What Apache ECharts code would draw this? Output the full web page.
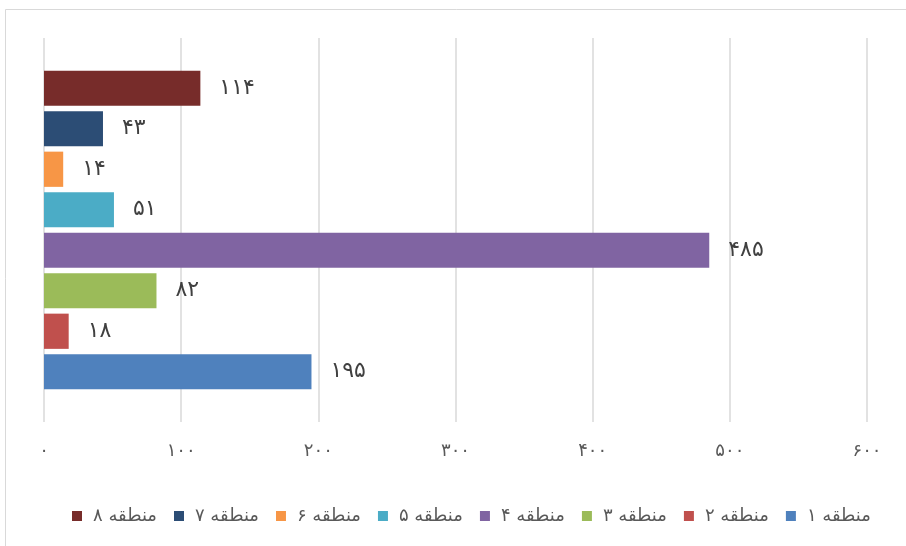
<!DOCTYPE html>
<html>
<head>
<meta charset="utf-8">
<script src="https://cdn.jsdelivr.net/npm/echarts@6/dist/echarts.min.js"></script>
<style>
  html, body { margin: 0; padding: 0; background: #fff; }
  #chart { width: 906px; height: 546px; }
</style>
</head>
<body>
<div id="chart"></div>
<script>
// Region names and their values (one bar per region)
const regionNames = ['منطقه ۱', 'منطقه ۲', 'منطقه ۳', 'منطقه ۴', 'منطقه ۵', 'منطقه ۶', 'منطقه ۷', 'منطقه ۸'];
const regionValues = [195, 18, 82, 485, 51, 14, 43, 114];
const regionColors = ['#4F81BD', '#C0504D', '#9BBB59', '#8064A2', '#4BACC6', '#F79646', '#2C4D75', '#772C2A'];
const axisMin = 0;
const axisMax = 600;
const axisStep = 100;

// Convert western digits to Persian digits
function toPersian(n) {
  const d = '۰۱۲۳۴۵۶۷۸۹';
  return String(n).replace(/[0-9]/g, c => d[+c]);
}

const font = "'DejaVu Sans', sans-serif";

// Region 1 sits at the bottom of the stack, region 8 at the top
const series = regionNames.map((name, i) => ({
  name: name,
  type: 'bar',
  data: [regionValues[i]],
  barGap: '15%',
  barCategoryGap: '17%',
  itemStyle: { color: regionColors[i] },
  label: {
    show: true,
    position: 'right',
    distance: 19,
    color: '#404040',
    fontSize: 22,
    fontFamily: font,
    formatter: p => toPersian(p.value)
  }
})).reverse();

const chart = echarts.init(document.getElementById('chart'), null, { renderer: 'canvas' });
chart.setOption({
  animation: false,
  backgroundColor: '#ffffff',
  graphic: [{
    type: 'rect',
    shape: { x: 5.5, y: 9.5, width: 1000, height: 1000 },
    style: { fill: 'none', stroke: '#d9d9d9', lineWidth: 1 },
    silent: true
  }],
  grid: { left: 44, right: 39, top: 38, bottom: 124, containLabel: false },
  xAxis: {
    type: 'value',
    min: axisMin,
    max: axisMax,
    interval: axisStep,
    axisLine: { show: false },
    axisTick: { show: false },
    splitLine: { show: true, lineStyle: { color: '#d9d9d9', width: 1.5 } },
    axisLabel: {
      margin: 20,
      color: '#595959',
      fontSize: 18,
      fontFamily: font,
      formatter: v => toPersian(v)
    }
  },
  yAxis: {
    type: 'category',
    data: [''],
    axisLine: { show: false },
    axisTick: { show: false },
    axisLabel: { show: false }
  },
  legend: {
    bottom: 16,
    left: 67,
    icon: 'rect',
    itemWidth: 10,
    itemHeight: 10,
    itemGap: 17,
    data: regionNames.slice().reverse(),
    textStyle: { color: '#595959', fontSize: 18, fontFamily: font, padding: [0, 0, 0, 6] }
  },
  series: series
});
</script>
</body>
</html>
